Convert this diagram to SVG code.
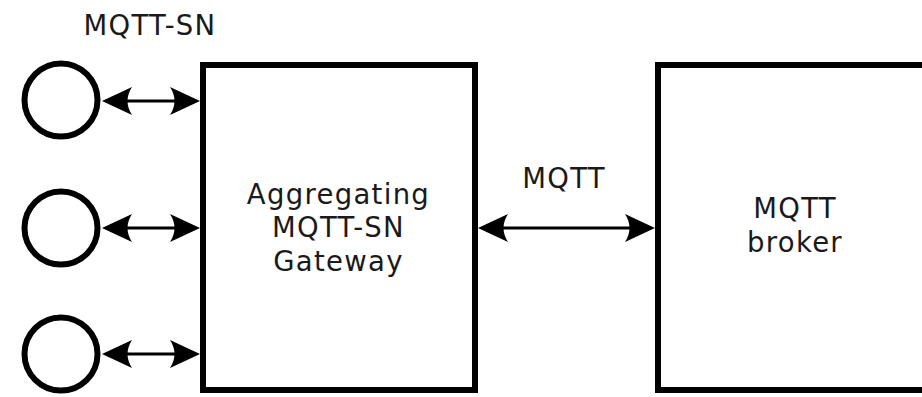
<svg xmlns="http://www.w3.org/2000/svg" width="922" height="397" viewBox="0 0 922 397">
<style>
.box{fill:#fff;stroke:#000;stroke-width:6}
.node{fill:#fff;stroke:#000;stroke-width:6}
.conn{stroke:#000;stroke-width:3.2;fill:none;marker-start:url(#ah);marker-end:url(#ah)}
text{font-family:"DejaVu Sans",sans-serif;font-size:27.5px;letter-spacing:1.3px;fill:#1a1a1a;text-anchor:middle}
</style>
<defs>
<marker id="ah" viewBox="0 -14 30 28" refX="20" refY="0" markerWidth="30" markerHeight="28" markerUnits="userSpaceOnUse" orient="auto-start-reverse">
<path d="M30,0 L0,-14 C6,-5 6,5 0,14 Z" fill="#000"/>
</marker>
</defs>
<rect width="922" height="397" fill="#fff"/>
<g id="gateway">
<rect class="box" x="203" y="65" width="272" height="325"/>
<text x="338.5" y="204">Aggregating</text>
<text x="338.5" y="237">MQTT-SN</text>
<text x="338.5" y="271">Gateway</text>
</g>
<g id="broker">
<rect class="box" x="658" y="65" width="274" height="325"/>
<text x="795" y="218">MQTT</text>
<text x="795" y="252">broker</text>
</g>
<g id="client1"><circle class="node" cx="61" cy="100" r="36.5"/></g>
<g id="client2"><circle class="node" cx="61" cy="228" r="36.5"/></g>
<g id="client3"><circle class="node" cx="61" cy="354" r="36.5"/></g>
<g id="connectors">
<line class="conn" x1="112" y1="101" x2="190" y2="101"/>
<line class="conn" x1="112" y1="228" x2="190" y2="228"/>
<line class="conn" x1="112" y1="354" x2="190" y2="354"/>
<line class="conn" x1="488" y1="228" x2="645" y2="228"/>
<text x="150" y="35">MQTT-SN</text>
<text x="564" y="188">MQTT</text>
</g>
</svg>
